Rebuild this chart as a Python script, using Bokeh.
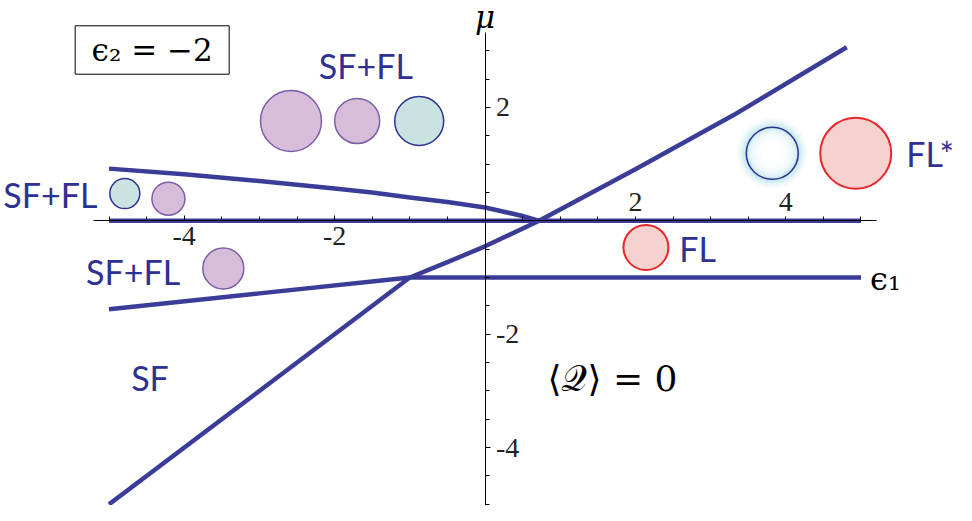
from bokeh.plotting import figure
from bokeh.models import Range1d, LinearAxis, FixedTicker
from bokeh.core.properties import value
from bokeh.embed import file_html
from bokeh.resources import INLINE

# ---------------- data (eps1, mu) ----------------
upper_eps = [-5.0, -4.0, -3.0, -2.0, -1.5, -1.0, -0.5, 0.0, 0.5, 0.72]
upper_mu = [0.92, 0.82, 0.70, 0.57, 0.50, 0.41, 0.33, 0.235, 0.085, 0.0]

rising_eps = [-5.0, -1.0, -0.5, 0.0, 0.72, 2.0, 3.3, 4.81]
rising_mu = [-5.0, -1.0, -0.73, -0.45, 0.0, 0.91, 1.86, 3.06]

lower_eps = [-5.0, -3.0, -1.0]
lower_mu = [-1.56, -1.28, -1.0]

flat_eps = [-1.0, 5.0]
flat_mu = [-1.0, -1.0]

zero_eps = [-5.0, 5.0]
zero_mu = [0.0, 0.0]

# bubbles: centre (eps1, mu) and diameter in px
purple_eps = [-2.58, -1.70, -4.21, -3.48]
purple_mu = [1.76, 1.76, 0.39, -0.84]
purple_d = [61, 45, 33, 41]

teal_eps = [-0.875, -4.79]
teal_mu = [1.76, 0.48]
teal_d = [49, 30]

red_eps = [2.14, 4.93]
red_mu = [-0.47, 1.19]
red_d = [45, 71]

glow_eps = [3.82]
glow_mu = [1.19]
glow_d = [52]

# region labels
region_text = ["SF+FL", "SF+FL", "SF+FL", "SF", "FL", "FL*"]
region_eps = [-1.585, -5.78, -4.68, -4.455, 2.826, 5.92]
region_mu = [2.73, 0.47, -0.89, -2.76, -0.49, 1.19]

# ticks
x_ticks_below = [-4, -2]
x_ticks_above = [2, 4]
x_minor = [i * 0.5 for i in range(-10, 11)]
y_ticks = [-4, -2, 2]
y_minor = [i * 0.5 for i in range(-10, 7)]

BLUE = "#3b3c98"
TEXT_BLUE = "#2e3192"
MATH_FONT = "DejaVu Serif"

p = figure(width=956, height=505, x_range=Range1d(-6.443, 6.270),
           y_range=Range1d(-5.021, 3.885), x_axis_type=None, y_axis_type=None,
           toolbar_location=None, output_backend="svg", min_border=0)
p.outline_line_color = None
p.grid.visible = False
p.background_fill_color = "white"

# axes crossing at the origin
xb = LinearAxis(fixed_location=0,
                ticker=FixedTicker(ticks=x_ticks_below, minor_ticks=x_minor),
                bounds=(-5.2, 5.2),
                major_tick_in=5, major_tick_out=0, minor_tick_in=4, minor_tick_out=0,
                axis_line_color="black", axis_line_width=1,
                major_tick_line_color="black", minor_tick_line_color="black",
                major_label_text_font="Liberation Serif", major_label_text_font_size="28px",
                major_label_text_color="#222222", major_label_standoff=6,
                major_label_overrides={-4: "-4", -2: "-2"})
p.add_layout(xb, "below")

xa = LinearAxis(fixed_location=0,
                ticker=FixedTicker(ticks=x_ticks_above, minor_ticks=[]),
                axis_line_color=None, major_tick_in=0, major_tick_out=0,
                minor_tick_in=0, minor_tick_out=0,
                major_label_text_font="Liberation Serif", major_label_text_font_size="28px",
                major_label_text_color="#222222", major_label_standoff=10,
                major_label_overrides={2: "2", 4: "4"})
p.add_layout(xa, "above")

ya = LinearAxis(fixed_location=0,
                ticker=FixedTicker(ticks=y_ticks, minor_ticks=y_minor),
                bounds=(-5.2, 3.32),
                major_tick_in=0, major_tick_out=5, minor_tick_in=0, minor_tick_out=4,
                axis_line_color="black", axis_line_width=1,
                major_tick_line_color="black", minor_tick_line_color="black",
                major_label_text_font="Liberation Serif", major_label_text_font_size="28px",
                major_label_text_color="#222222", major_label_standoff=6,
                major_label_overrides={-4: "-4", -2: "-2", 2: "2"})
p.add_layout(ya, "right")

# boundary lines
for xs, ys in [(zero_eps, zero_mu), (upper_eps, upper_mu), (rising_eps, rising_mu),
               (lower_eps, lower_mu), (flat_eps, flat_mu)]:
    p.line(xs, ys, line_color=BLUE, line_width=4.5, line_join="round")

# bubbles
p.scatter(purple_eps, purple_mu, size=purple_d, marker="circle",
          fill_color="#d7bdd9", line_color="#7a5ea8", line_width=1.5)
p.scatter(teal_eps, teal_mu, size=teal_d, marker="circle",
          fill_color="#c9e3e0", line_color="#2e3192", line_width=1.5)
p.scatter(red_eps, red_mu, size=red_d, marker="circle",
          fill_color="#f6d2cf", line_color="#e8262c", line_width=2)

# glowing bubble (halo + soft gradient inside)
for extra, col, alpha in [(18, "#d8f0f4", 0.25), (13, "#cdecf1", 0.35),
                          (8, "#c3e8ee", 0.5), (4, "#bde5ec", 0.7)]:
    p.scatter(glow_eps, glow_mu, size=[d + extra for d in glow_d], marker="circle",
              fill_color=col, fill_alpha=alpha, line_color=None)
for shrink, col in [(0, "#c8e9ee"), (3, "#d6eff3"), (6, "#e2f4f7"), (10, "#ecf8fa"),
                    (15, "#f5fbfc"), (22, "#fbfefe"), (30, "#ffffff")]:
    p.scatter(glow_eps, glow_mu, size=[d - shrink for d in glow_d], marker="circle",
              fill_color=col, line_color=None)
p.scatter(glow_eps, glow_mu, size=glow_d, marker="circle",
          fill_color=None, line_color="#2e3192", line_width=1.5)

# region labels
p.text(region_eps, region_mu, text=region_text, text_font=value("Lato"),
       text_font_size=value("34px"), text_color=TEXT_BLUE,
       text_align="center", text_baseline="middle")

# epsilon_2 box
p.rect(x=[-4.426], y=[3.012], width=[2.048], height=[0.854],
       fill_color="white", line_color="black", line_width=1)
p.text([-4.426], [3.012], text=["ϵ₂ = −2"], text_font=value(MATH_FONT),
       text_font_size=value("31px"), text_color="black",
       text_align="center", text_baseline="middle")

# axis titles and annotation
p.text([0.0], [3.6], text=["μ"], text_font=value(MATH_FONT),
       text_font_style="italic", text_font_size=value("31px"), text_color="black",
       text_align="center", text_baseline="middle")
p.text([5.12], [-1.02], text=["ϵ₁"], text_font=value(MATH_FONT),
       text_font_size=value("32px"), text_color="black",
       text_align="left", text_baseline="middle")
p.text([1.695], [-2.78], text=["⟨𝒬⟩ = 0"], text_font=value(MATH_FONT),
       text_font_size=value("36px"), text_color="black",
       text_align="center", text_baseline="middle")

open("out.html", "w").write(file_html(p, INLINE))
